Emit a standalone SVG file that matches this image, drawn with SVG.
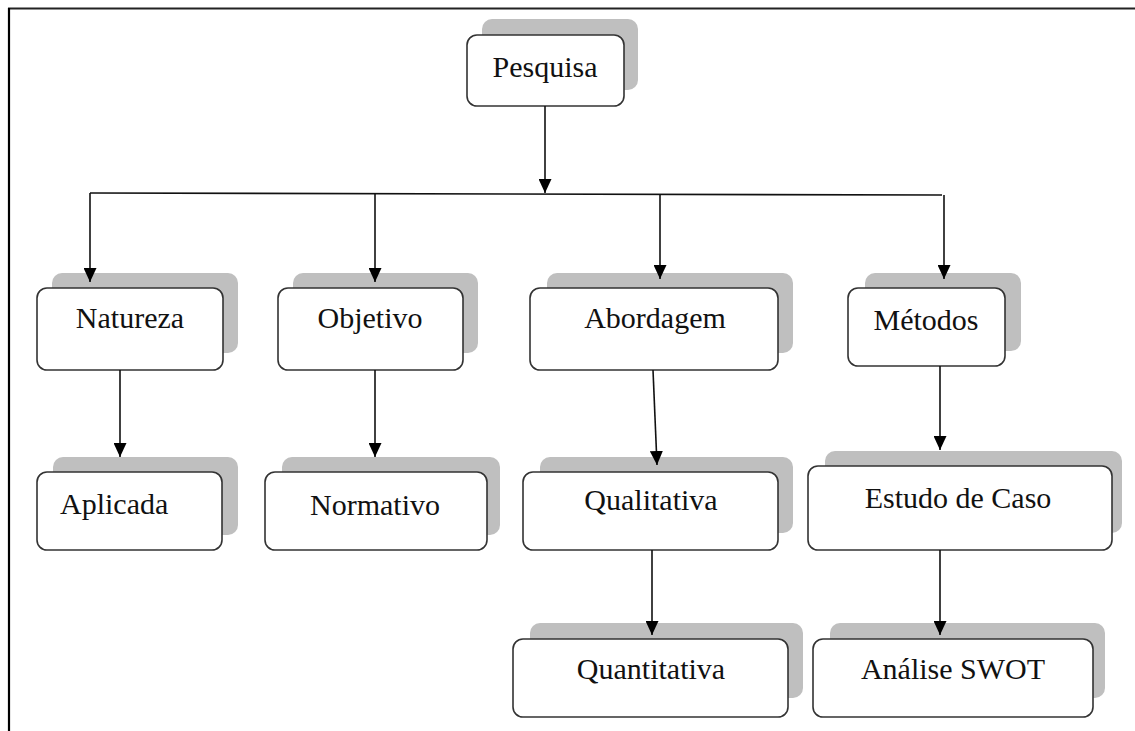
<svg xmlns="http://www.w3.org/2000/svg" width="1135" height="731" viewBox="0 0 1135 731">
<defs>
<marker id="ah" markerUnits="userSpaceOnUse" markerWidth="14" markerHeight="13" refX="14" refY="6.5" orient="auto">
<path d="M0,0 L14,6.5 L0,13 z" fill="#000"/>
</marker>
<style>
.sh{fill:#bfbfbf;stroke:none}
.bx{fill:#fff;stroke:#333;stroke-width:1.6}
.t{font-family:"Liberation Serif","Times New Roman",serif;font-size:30px;fill:#111;text-anchor:middle}
.c{stroke:#111;stroke-width:1.6;fill:none;marker-end:url(#ah)}
.l{stroke:#111;stroke-width:1.6;fill:none}
</style>
</defs>
<rect width="1135" height="731" fill="#fff"/>
<g id="frame">
<line x1="8" y1="8.5" x2="1135" y2="8.5" stroke="#222" stroke-width="2.2"/>
<line x1="9" y1="8" x2="9" y2="731" stroke="#000" stroke-width="2.2"/>
</g>
<g id="pesquisa">
<rect class="sh" x="482" y="19" width="156" height="71" rx="10"/>
<rect class="bx" x="467" y="35" width="157" height="71" rx="10"/>
<text class="t" x="545" y="77">Pesquisa</text>
</g>
<g id="natureza">
<rect class="sh" x="52" y="273" width="186" height="80" rx="10"/>
<rect class="bx" x="37" y="288" width="186" height="82" rx="10"/>
<text class="t" x="130" y="328">Natureza</text>
</g>
<g id="objetivo">
<rect class="sh" x="293" y="273" width="185" height="80" rx="10"/>
<rect class="bx" x="278" y="288" width="185" height="82" rx="10"/>
<text class="t" x="370" y="328">Objetivo</text>
</g>
<g id="abordagem">
<rect class="sh" x="547" y="273" width="246" height="80" rx="10"/>
<rect class="bx" x="530" y="288" width="248" height="82" rx="10"/>
<text class="t" x="655" y="328">Abordagem</text>
</g>
<g id="metodos">
<rect class="sh" x="865" y="273" width="156" height="78" rx="10"/>
<rect class="bx" x="848" y="288" width="157" height="78" rx="10"/>
<text class="t" x="926" y="330">Métodos</text>
</g>
<g id="aplicada">
<rect class="sh" x="53" y="457" width="185" height="78" rx="10"/>
<rect class="bx" x="37" y="472" width="185" height="78" rx="10"/>
<text class="t" x="60" y="514" style="text-anchor:start">Aplicada</text>
</g>
<g id="normativo">
<rect class="sh" x="282" y="457" width="218" height="78" rx="10"/>
<rect class="bx" x="265" y="472" width="222" height="78" rx="10"/>
<text class="t" x="375" y="515">Normativo</text>
</g>
<g id="qualitativa">
<rect class="sh" x="540" y="457" width="253" height="76" rx="10"/>
<rect class="bx" x="523" y="472" width="255" height="78" rx="10"/>
<text class="t" x="651" y="510">Qualitativa</text>
</g>
<g id="estudo">
<rect class="sh" x="825" y="451" width="297" height="82" rx="10"/>
<rect class="bx" x="808" y="466" width="304" height="84" rx="10"/>
<text class="t" x="958" y="508">Estudo de Caso</text>
</g>
<g id="quantitativa">
<rect class="sh" x="530" y="623" width="273" height="75" rx="10"/>
<rect class="bx" x="513" y="639" width="275" height="78" rx="10"/>
<text class="t" x="651" y="679">Quantitativa</text>
</g>
<g id="swot">
<rect class="sh" x="830" y="623" width="275" height="75" rx="10"/>
<rect class="bx" x="813" y="639" width="280" height="78" rx="10"/>
<text class="t" x="953" y="679">Análise SWOT</text>
</g>
<g id="connectors">
<line class="c" x1="545" y1="106" x2="545" y2="193"/>
<line class="l" x1="90" y1="193" x2="942" y2="195"/>
<line class="c" x1="90" y1="193" x2="90" y2="282"/>
<line class="c" x1="375" y1="194" x2="375" y2="282"/>
<line class="c" x1="660" y1="194" x2="660" y2="279"/>
<line class="c" x1="944" y1="195" x2="944" y2="279"/>
<line class="c" x1="120" y1="370" x2="120" y2="457"/>
<line class="c" x1="375" y1="370" x2="375" y2="457"/>
<line class="c" x1="653" y1="370" x2="657" y2="465"/>
<line class="c" x1="940" y1="366" x2="940" y2="450"/>
<line class="c" x1="652" y1="550" x2="652" y2="635"/>
<line class="c" x1="940" y1="550" x2="940" y2="635"/>
</g>
</svg>
